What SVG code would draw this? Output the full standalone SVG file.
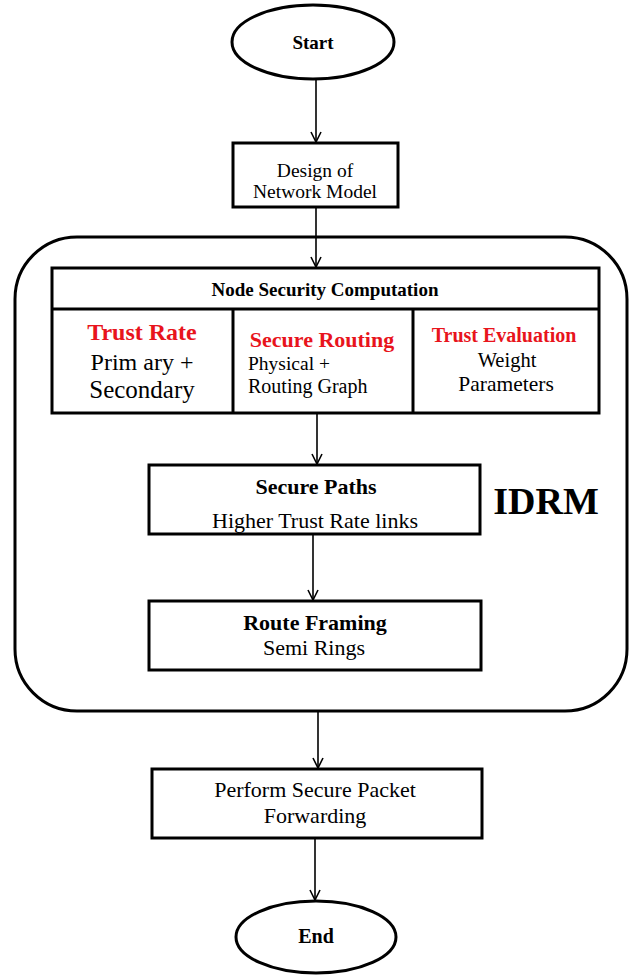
<svg xmlns="http://www.w3.org/2000/svg" width="631" height="976" viewBox="0 0 631 976">
<defs>
<style>
.box{fill:#fff;stroke:#000;stroke-width:3}
.frame{fill:none;stroke:#000;stroke-width:3}
.con{fill:none;stroke:#000;stroke-width:1.6}
text{font-family:"Liberation Serif","Times New Roman",serif;fill:#000;text-anchor:middle}
.b{font-weight:bold}
.red{fill:#e8141c;font-weight:bold}
</style>
<marker id="arr" viewBox="0 0 12 12" refX="11" refY="6" markerWidth="12" markerHeight="12" markerUnits="userSpaceOnUse" orient="auto">
<path d="M1,1 L11,6 L1,11" fill="none" stroke="#000" stroke-width="1.6"/>
</marker>
</defs>
<g id="idrm-frame">
<rect class="frame" x="15" y="237" width="612" height="474" rx="62" ry="62"/>
<text class="b" x="546" y="514" font-size="38">IDRM</text>
</g>
<g id="connectors">
<line class="con" x1="316" y1="79" x2="316" y2="142" marker-end="url(#arr)"/>
<line class="con" x1="316" y1="207" x2="316" y2="267" marker-end="url(#arr)"/>
<line class="con" x1="317" y1="413" x2="317" y2="464" marker-end="url(#arr)"/>
<line class="con" x1="313" y1="535" x2="313" y2="600" marker-end="url(#arr)"/>
<line class="con" x1="318" y1="711" x2="318" y2="768" marker-end="url(#arr)"/>
<line class="con" x1="315" y1="839" x2="315" y2="900" marker-end="url(#arr)"/>
</g>
<g id="start">
<ellipse class="box" cx="313" cy="42" rx="81" ry="37"/>
<text class="b" x="313" y="49" font-size="19">Start</text>
</g>
<g id="design">
<rect class="box" x="233" y="143" width="165" height="64"/>
<text x="315" y="177" font-size="19.5">Design of</text>
<text x="315" y="198" font-size="19.5">Network Model</text>
</g>
<g id="node-security">
<rect class="box" x="52" y="268" width="547" height="145"/>
<line class="frame" x1="52" y1="309" x2="599" y2="309"/>
<line class="frame" x1="233" y1="309" x2="233" y2="413"/>
<line class="frame" x1="413" y1="309" x2="413" y2="413"/>
<text class="b" x="325" y="296" font-size="19">Node Security Computation</text>
</g>
<g id="trust-rate">
<text class="red" x="142" y="340" font-size="24">Trust Rate</text>
<text x="142" y="370" font-size="24">Prim ary +</text>
<text x="142" y="398" font-size="25">Secondary</text>
</g>
<g id="secure-routing">
<text class="red" x="322" y="347" font-size="22">Secure Routing</text>
<text x="248" y="370" font-size="19.5" style="text-anchor:start">Physical +</text>
<text x="248" y="393" font-size="20" style="text-anchor:start">Routing Graph</text>
</g>
<g id="trust-evaluation">
<text class="red" x="504" y="342" font-size="20">Trust Evaluation</text>
<text x="507" y="367" font-size="20.5">Weight</text>
<text x="506" y="391" font-size="21.5">Parameters</text>
</g>
<g id="secure-paths">
<rect class="box" x="149" y="465" width="331" height="69"/>
<text class="b" x="316" y="494" font-size="22">Secure Paths</text>
<text x="315" y="528" font-size="22">Higher Trust Rate links</text>
</g>
<g id="route-framing">
<rect class="box" x="149" y="601" width="332" height="69"/>
<text class="b" x="315" y="630" font-size="22">Route Framing</text>
<text x="314" y="655" font-size="22">Semi Rings</text>
</g>
<g id="forwarding">
<rect class="box" x="152" y="769" width="330" height="69"/>
<text x="315" y="797" font-size="22">Perform Secure Packet</text>
<text x="315" y="823" font-size="22">Forwarding</text>
</g>
<g id="end">
<ellipse class="box" cx="316" cy="937" rx="80" ry="36"/>
<text class="b" x="316" y="943" font-size="20">End</text>
</g>
</svg>
